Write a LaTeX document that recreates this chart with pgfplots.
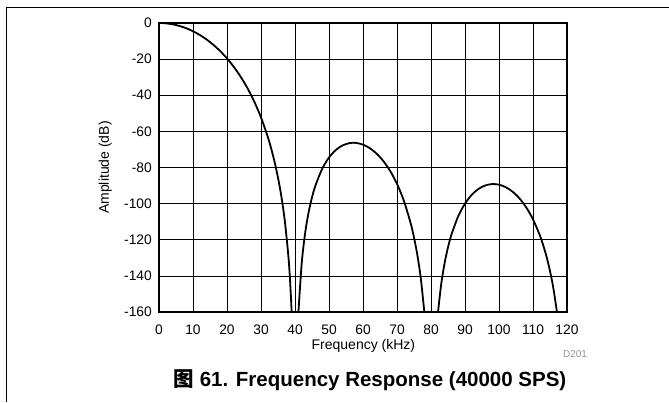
\documentclass[border=0pt]{standalone}
\usepackage{pgfplots}
\pgfplotsset{compat=1.18}
\usepackage{fontspec}
\setmainfont{Liberation Sans}
\newfontfamily\cjk{Noto Sans CJK SC}
\begin{document}
\begin{tikzpicture}[x=1pt,y=1pt]
\path[use as bounding box] (0,0) rectangle (669,402);
\draw[line width=0.9pt] (669,395) -- (6,395) -- (6,0);
\begin{axis}[
  at={(159pt,90pt)}, anchor=south west,
  width=408pt, height=289pt, scale only axis,
  xmin=0, xmax=120, ymin=-160, ymax=0,
  xtick={0,10,...,120}, ytick={-160,-140,...,0},
  grid=major, major grid style={black, line width=0.7pt},
  major tick length=0pt,
  axis line style={line width=1.8pt},
  /pgf/number format/assume math mode=true,
  tick label style={font=\fontsize{13.8}{16}\selectfont},
  xticklabel style={anchor=north, inner sep=0pt, yshift=-13pt},
  yticklabel style={anchor=east, inner sep=0pt, xshift=-7pt},
  xlabel={Frequency (kHz)}, ylabel={Amplitude (dB)},
  label style={font=\fontsize{14}{16}\selectfont},
  xlabel style={at={(axis description cs:0.501,-0.118)}, anchor=center},
  ylabel style={at={(axis description cs:-0.132,0.5)}, anchor=center},
]
\addplot[black, line width=1.8pt, smooth] coordinates {
(0,0) (1,-0.045) (2,-0.179) (4,-0.717) (6,-1.62) (8,-2.90) (10,-4.56) (12,-6.63)
(14,-9.13) (16,-12.10) (18,-15.57) (20,-19.61) (22,-24.29) (24,-29.71) (26,-36.02)
(28,-43.43) (30,-52.27) (32,-63.10) (33,-69.55) (34,-76.95) (35,-85.63) (36,-96.14)
(37,-109.51) (38,-128.05) (38.5,-141.04) (39,-159.15) (39.1,-163.83)
};
\addplot[black, line width=1.8pt, smooth] coordinates {
(41,-161.32) (41.1,-157.30) (42,-132.40) (43,-116.04) (44,-104.86) (45,-96.55)
(46,-90.08) (48,-80.71) (50,-74.46) (52,-70.31) (54,-67.76) (56,-66.51) (57,-66.31)
(58,-66.39) (60,-67.32) (62,-69.29) (64,-72.31) (66,-76.48) (68,-81.96) (70,-89.07)
(72,-98.32) (74,-110.73) (75,-118.73) (76,-128.59) (77,-141.34) (78,-159.28) (78.1,-161.55)
};
\addplot[black, line width=1.8pt, smooth] coordinates {
(82,-161.46) (82.1,-159.41) (83,-144.60) (84,-132.94) (85,-124.17) (86,-117.25)
(88,-107.04) (90,-99.98) (92,-95.09) (94,-91.83) (96,-89.92) (98,-89.17) (100,-89.51)
(102,-90.91) (104,-93.39) (106,-97.05) (108,-102.06) (110,-108.70) (112,-117.51)
(113,-123.01) (114,-129.50) (115,-137.29) (116,-146.96) (117,-159.51) (117.1,-160.99)
};
\end{axis}
\node[text=black!42, font=\fontsize{10}{12}\selectfont] at (575,48) {D201};
\node[font=\fontsize{20.5}{24}\selectfont\bfseries] at (370,22) {{\cjk 图} 61. Frequency Response (40000 SPS)};
\end{tikzpicture}
\end{document}
